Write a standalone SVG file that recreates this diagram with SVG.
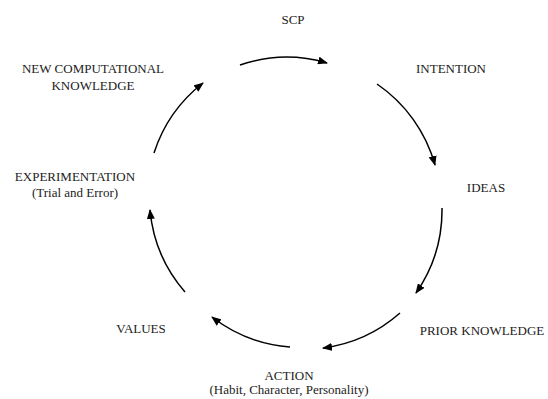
<svg xmlns="http://www.w3.org/2000/svg" width="548" height="399" viewBox="0 0 548 399">
<defs>
<marker id="ah" viewBox="0 0 10 8" refX="9" refY="4" markerWidth="10" markerHeight="8" markerUnits="userSpaceOnUse" orient="auto">
<path d="M0,0 L10,4 L0,8 Z" fill="#000"/>
</marker>
<style>
text{font-family:"Liberation Serif","DejaVu Serif",serif;font-size:13px;fill:#222;text-anchor:middle}
.arc{fill:none;stroke:#000;stroke-width:1.5;marker-end:url(#ah)}
</style>
</defs>
<rect width="548" height="399" fill="#fff"/>
<g id="scp"><text x="293" y="24">SCP</text></g>
<g id="intention"><text x="451" y="73">INTENTION</text></g>
<g id="ideas"><text x="486" y="192">IDEAS</text></g>
<g id="prior"><text x="482" y="335">PRIOR KNOWLEDGE</text></g>
<g id="action"><text x="289" y="380">ACTION</text><text x="289" y="394">(Habit, Character, Personality)</text></g>
<g id="values"><text x="141" y="333">VALUES</text></g>
<g id="experimentation"><text x="75" y="181">EXPERIMENTATION</text><text x="75" y="197">(Trial and Error)</text></g>
<g id="newknowledge"><text x="93" y="73">NEW COMPUTATIONAL</text><text x="93" y="90">KNOWLEDGE</text></g>
<g id="connectors">
<path class="arc" d="M240,65 A145,145 0 0 1 327,63"/>
<path class="arc" d="M377,84 A145,145 0 0 1 435,165"/>
<path class="arc" d="M442,208 A145,145 0 0 1 416,293"/>
<path class="arc" d="M400,313 A145,145 0 0 1 323,348"/>
<path class="arc" d="M290,347 A145,145 0 0 1 212,317"/>
<path class="arc" d="M185,292 A145,145 0 0 1 150,210"/>
<path class="arc" d="M154,153 A145,145 0 0 1 203,83"/>
</g>
</svg>
